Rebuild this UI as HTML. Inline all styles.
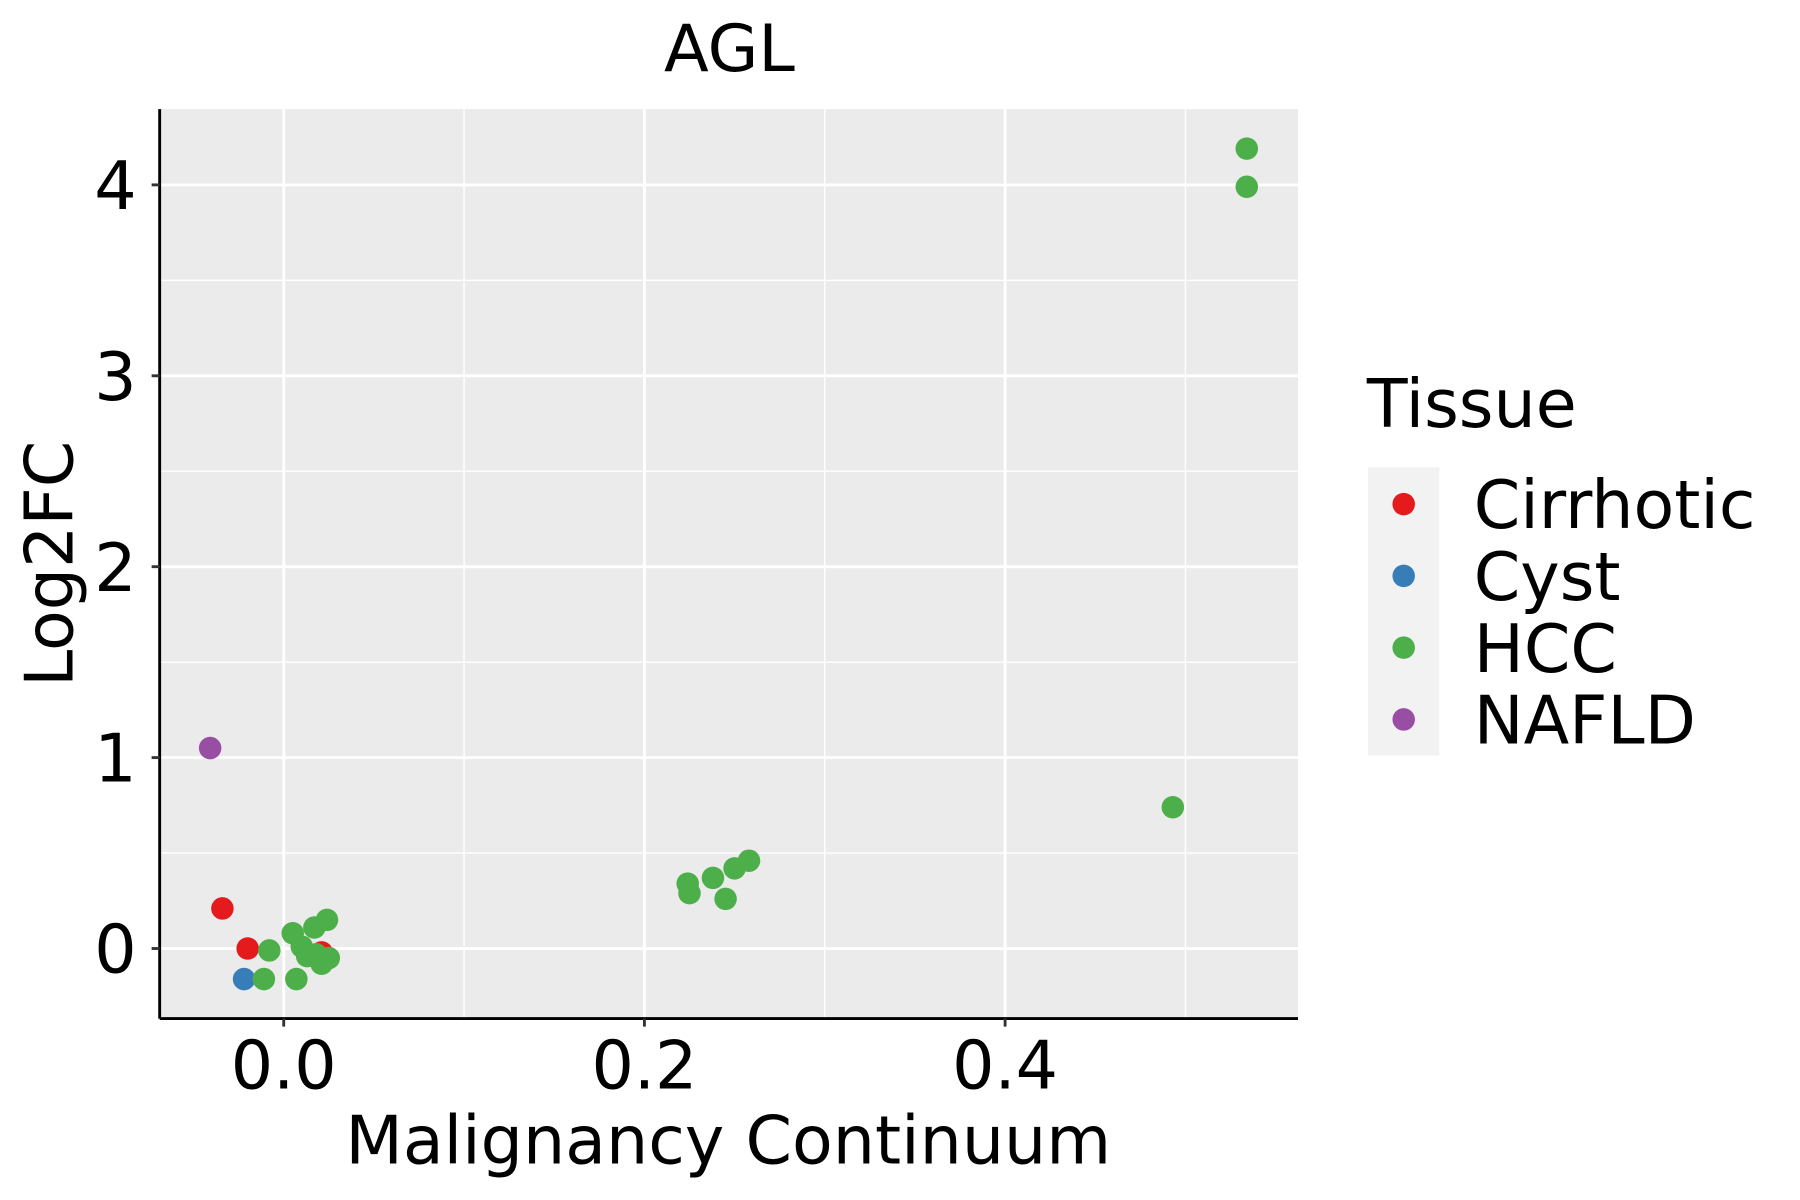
<!DOCTYPE html>
<html><head><meta charset="utf-8"><style>
html,body{margin:0;padding:0;background:#fff;}
svg{display:block;font-family:"DejaVu Sans","Liberation Sans",sans-serif;}
</style></head><body>
<svg id="chart" width="1800" height="1200" viewBox="0 0 1567 1045" preserveAspectRatio="none" xmlns="http://www.w3.org/2000/svg">
<rect x="0" y="0" width="1567" height="1045" fill="#fff"/>
<rect x="139" y="95" width="991" height="792" fill="#ebebeb"/>
<g id="grid"></g>
<g id="points"></g>
<g id="axes"></g>
<text x="635" y="62" font-size="57" text-anchor="middle">AGL</text>
<text x="634" y="1013" font-size="58" text-anchor="middle">Malignancy Continuum</text>
<text x="0" y="0" font-size="58" text-anchor="middle" transform="translate(63,491) rotate(-90)">Log2FC</text>
<g>
<text x="1190" y="372" font-size="58">Tissue</text>
<rect x="1191" y="407" width="62" height="251" fill="#f2f2f2"/>
<g id="legend-entries"></g>
</g>
</svg>
<script>
const xTicks = [0.0, 0.2, 0.4];
const xTickLabels = ["0.0", "0.2", "0.4"];
const xMinor = [0.1, 0.3, 0.5];
const yTicks = [0, 1, 2, 3, 4];
const yTickLabels = ["0", "1", "2", "3", "4"];
const yMinor = [0.5, 1.5, 2.5, 3.5];
const tissues = ["Cirrhotic", "Cyst", "HCC", "NAFLD"];
const colors = ["#e41a1c", "#377eb8", "#4daf4a", "#984ea3"];
const ptX = [-0.0408, -0.034, -0.020, 0.021, -0.022,
  -0.008, -0.011, 0.007, 0.005, 0.010, 0.017, 0.024, 0.013, 0.021, 0.025, 0.018,
  0.224, 0.225, 0.238, 0.245, 0.250, 0.258, 0.493, 0.534, 0.534];
const ptY = [1.05, 0.21, 0.0, -0.02, -0.16,
  -0.01, -0.16, -0.16, 0.08, 0.01, 0.11, 0.15, -0.04, -0.08, -0.05, -0.03,
  0.34, 0.29, 0.37, 0.26, 0.42, 0.46, 0.74, 4.19, 3.99];
const ptTissue = [3, 0, 0, 0, 1,
  2, 2, 2, 2, 2, 2, 2, 2, 2, 2, 2,
  2, 2, 2, 2, 2, 2, 2, 2, 2];

const NS = "http://www.w3.org/2000/svg";
const L = 139, R = 1130, T = 95, B = 887;
function sx(v){ return 247 + v * 1570; }
function sy(v){ return 826 - v * 166.25; }
function mk(tag, attrs, parent){ const e = document.createElementNS(NS, tag); for (const k in attrs) e.setAttribute(k, attrs[k]); parent.appendChild(e); return e; }

const grid = document.getElementById('grid');
xMinor.forEach(v => { const l = mk('line', {x1:sx(v), x2:sx(v), y1:T, y2:B, stroke:'#fff', 'stroke-width':1.2}, grid);
  
   });
yMinor.forEach(v => { const l = mk('line', {x1:L, x2:R, y1:sy(v), y2:sy(v), stroke:'#fff', 'stroke-width':1.2}, grid);
  
   });
xTicks.forEach(v => { const l = mk('line', {x1:sx(v), x2:sx(v), y1:T, y2:B, stroke:'#fff', 'stroke-width':2.5}, grid);
  
   });
yTicks.forEach(v => { const l = mk('line', {x1:L, x2:R, y1:sy(v), y2:sy(v), stroke:'#fff', 'stroke-width':2.5}, grid);
  
   });

const pts = document.getElementById('points');
ptX.forEach((v, i) => { const c = mk('circle', {cx:sx(v), cy:sy(ptY[i]), r:9.8, fill:colors[ptTissue[i]]}, pts);
  
   });

const ax = document.getElementById('axes');
const xl = mk('line', {x1:L, x2:R, y1:B, y2:B, stroke:'#000', 'stroke-width':2.5}, ax);


const yl = mk('line', {x1:L, x2:L, y1:T, y2:B, stroke:'#000', 'stroke-width':2.5}, ax);


xTicks.forEach((v, i) => {
  const t = mk('line', {x1:sx(v), x2:sx(v), y1:B, y2:B+7, stroke:'#333', 'stroke-width':2.5}, ax);
  
  
  const tx = mk('text', {x:sx(v), y:948, 'font-size':58, 'text-anchor':'middle', fill:'#000'}, ax);
  tx.textContent = xTickLabels[i];
  
  
});
yTicks.forEach((v, i) => {
  const t = mk('line', {x1:L-7, x2:L, y1:sy(v), y2:sy(v), stroke:'#333', 'stroke-width':2.5}, ax);
  
  
  const tx = mk('text', {x:119, y:sy(v)+21, 'font-size':58, 'text-anchor':'end', fill:'#000'}, ax);
  tx.textContent = yTickLabels[i];
  
  
});

const lg = document.getElementById('legend-entries');
tissues.forEach((name, i) => {
  const y = 439 + i * 62.5;
  const c = mk('circle', {cx:1222, cy:y, r:9.8, fill:colors[i]}, lg);
  
  
  const t = mk('text', {x:1283, y:y+21, 'font-size':58, fill:'#000'}, lg);
  t.textContent = name;
  
  
});
</script>
</body></html>
